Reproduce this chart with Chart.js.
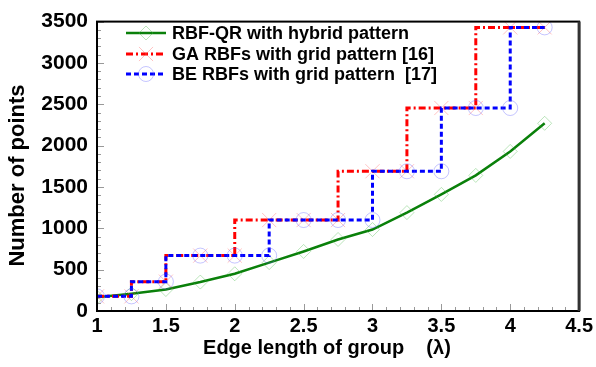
<!DOCTYPE html>
<html>
<head>
<meta charset="utf-8">
<script src="https://cdn.jsdelivr.net/npm/chart.js@4/dist/chart.umd.min.js"></script>
<style>
  html, body { margin: 0; padding: 0; background: #fff; }
  #wrap { width: 596px; height: 367px; }
</style>
</head>
<body>
<div id="wrap"><canvas id="chart" width="596" height="367"></canvas></div>
<script>
const edgeLength = [1, 1.25, 1.5, 1.75, 2, 2.25, 2.5, 2.75, 3, 3.25, 3.5, 3.75, 4, 4.25];
const hybridPoints = [165, 210, 260, 350, 450, 585, 720, 865, 985, 1190, 1410, 1640, 1930, 2270];
const gaPoints = [177, 177, 355, 670, 670, 1100, 1100, 1100, 1690, 1690, 2455, 2455, 3430, 3430];
const bePoints = [177, 177, 355, 670, 670, 670, 1100, 1100, 1100, 1690, 1690, 2455, 2455, 3430];
const seriesLabels = [
  "RBF-QR with hybrid pattern",
  "GA RBFs with grid pattern [16]",
  "BE RBFs with grid pattern  [17]",
];
// trailing spaces nudge the centred titles to where the original sits
const xTitle = "Edge length of group    (\u03bb)    ";
const yTitle = "Number of points   ";

const FONT = "Arial, 'Liberation Sans', sans-serif";

function toXY(values) {
  return values.map((v, i) => ({ x: edgeLength[i], y: v }));
}

// inside legend: a line sample with its marker, then the label
const insideLegend = {
  id: "insideLegend",
  afterDraw(chart) {
    const ctx = chart.ctx;
    const rows = [33, 54, 74];
    chart.data.datasets.forEach((ds, i) => {
      const y = rows[i];
      ctx.save();
      ctx.strokeStyle = ds.borderColor;
      ctx.lineWidth = ds.borderWidth;
      ctx.setLineDash(ds.borderDash || []);
      ctx.beginPath();
      ctx.moveTo(126, y);
      ctx.lineTo(166, y);
      ctx.stroke();
      ctx.setLineDash([]);
      ctx.fillStyle = "rgba(0,0,0,0)";
      ctx.strokeStyle = ds.pointBorderColor;
      ctx.lineWidth = 1;
      Chart.helpers.drawPoint(ctx, {
        pointStyle: ds.pointStyle,
        radius: ds.pointRadius,
        borderWidth: 1,
        rotation: 0,
      }, 146, y);
      ctx.fillStyle = "#000";
      ctx.font = "bold 18px " + FONT;
      ctx.textBaseline = "middle";
      ctx.fillText(ds.label, 172, y + 1);
      ctx.restore();
    });
  },
};

// frame around plot plus inward major/minor ticks
const frameTicks = {
  id: "frameTicks",
  afterDatasetsDraw(chart) {
    const { ctx, chartArea: a, scales } = chart;
    ctx.save();
    ctx.strokeStyle = "#999";
    ctx.lineWidth = 1;
    for (let v = 0; v <= 3500; v += 100) {
      const y = Math.round(scales.y.getPixelForValue(v)) + 0.5;
      const len = v % 500 === 0 ? 7 : 4;
      ctx.beginPath();
      ctx.moveTo(a.left, y);
      ctx.lineTo(a.left + len, y);
      ctx.stroke();
    }
    for (let k = 10; k <= 45; k++) {
      const x = Math.round(scales.x.getPixelForValue(k / 10)) + 0.5;
      const len = k % 5 === 0 ? 7 : 4;
      ctx.beginPath();
      ctx.moveTo(x, a.bottom);
      ctx.lineTo(x, a.bottom - len);
      ctx.stroke();
    }
    ctx.strokeStyle = "#000";
    ctx.lineWidth = 2;
    ctx.strokeRect(a.left, a.top, a.right - a.left, a.bottom - a.top);
    ctx.strokeStyle = "#333";
    ctx.lineWidth = 3;
    ctx.beginPath();
    ctx.moveTo(a.right, a.top);
    ctx.lineTo(a.right, a.bottom);
    ctx.stroke();
    ctx.restore();
  },
};

new Chart(document.getElementById("chart"), {
  type: "line",
  data: {
    datasets: [
      {
        label: seriesLabels[0],
        data: toXY(hybridPoints),
        borderColor: "#0a800a",
        borderWidth: 2.5,
        pointStyle: "rectRot",
        pointRadius: 7,
        pointBorderColor: "rgba(60,180,60,0.35)",
        pointBackgroundColor: "rgba(0,0,0,0)",
        pointBorderWidth: 1,
        tension: 0,
        order: 2,
      },
      {
        label: seriesLabels[1],
        data: toXY(gaPoints),
        borderColor: "#ff0000",
        borderWidth: 3,
        borderDash: [7, 3, 2, 3],
        stepped: "after",
        pointStyle: "crossRot",
        pointRadius: 10,
        pointBorderColor: "rgba(255,80,80,0.35)",
        pointBackgroundColor: "rgba(0,0,0,0)",
        pointBorderWidth: 1,
        order: 1,
      },
      {
        label: seriesLabels[2],
        data: toXY(bePoints),
        borderColor: "#0000ff",
        borderWidth: 3,
        borderDash: [5, 3],
        stepped: "after",
        pointStyle: "circle",
        pointRadius: 7.5,
        pointBorderColor: "rgba(90,90,255,0.35)",
        pointBackgroundColor: "rgba(0,0,0,0)",
        pointBorderWidth: 1,
        order: 0,
      },
    ],
  },
  options: {
    responsive: false,
    animation: false,
    layout: { padding: { top: 14, right: 16, left: 0, bottom: 0 } },
    plugins: {
      legend: { display: false },
      tooltip: { enabled: false },
    },
    scales: {
      x: {
        type: "linear",
        min: 1,
        max: 4.5,
        grid: { display: false, drawTicks: false },
        border: { display: false },
        ticks: {
          stepSize: 0.5,
          color: "#000",
          padding: 3,
          font: { family: FONT, size: 20, weight: "bold" },
          callback: (v) => String(v),
        },
        title: {
          display: true,
          text: xTitle,
          color: "#000",
          padding: { top: 0, bottom: 7 },
          font: { family: FONT, size: 20, weight: "bold" },
        },
        afterFit(scale) { scale.height = 56; },
      },
      y: {
        min: 0,
        max: 3500,
        grid: { display: false, drawTicks: false },
        border: { display: false },
        ticks: {
          stepSize: 500,
          color: "#000",
          padding: 9,
          font: { family: FONT, size: 21, weight: "bold" },
          callback: (v) => String(v),
        },
        title: {
          display: true,
          text: yTitle,
          color: "#000",
          padding: { top: 5, bottom: 0 },
          font: { family: FONT, size: 22, weight: "bold" },
        },
        afterFit(scale) { scale.width = 97; },
      },
    },
  },
  plugins: [frameTicks, insideLegend],
});
</script>
</body>
</html>
